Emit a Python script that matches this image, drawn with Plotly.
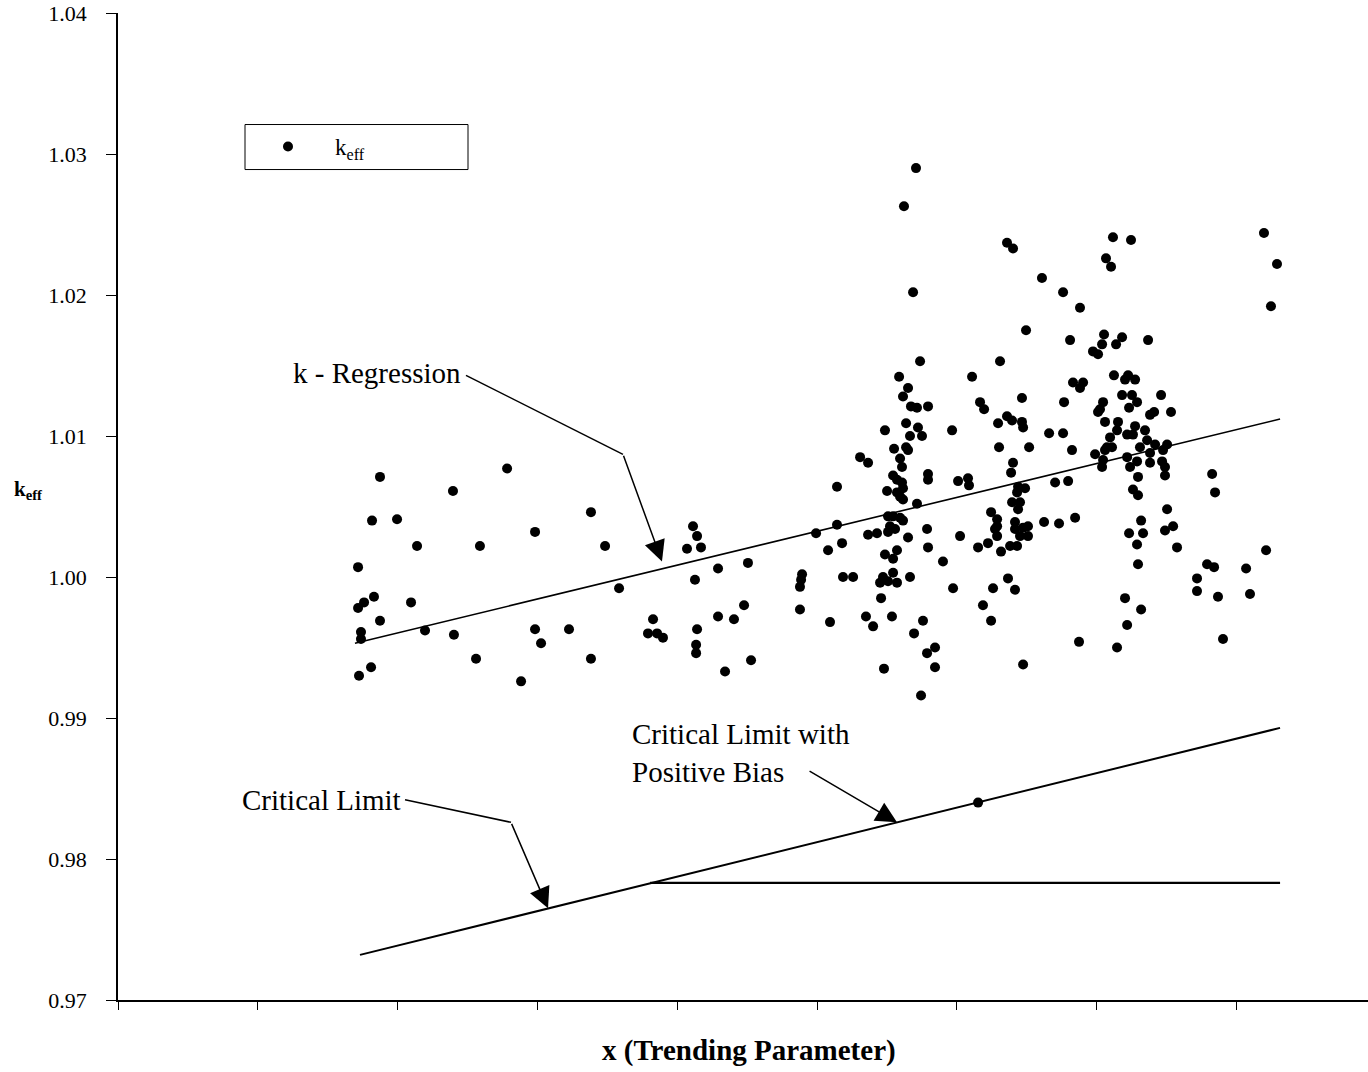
import plotly.graph_objects as go

# ---- data (trending parameter in axis-tick units, keff) ----
trend_x = [
    1.874, 2.783, 2.396, 1.817, 1.996, 3.383, 2.983, 2.139, 2.589, 3.484,
    4.113, 4.142, 4.070, 4.170, 1.717, 4.292, 4.127, 3.584, 1.831, 1.760,
    1.717, 2.096, 1.874, 4.292, 4.406, 1.738, 1.738, 2.196, 2.403, 2.983,
    3.026, 3.226, 3.827, 3.791, 3.856, 3.898, 4.142, 4.135, 4.135, 2.561,
    3.383, 1.810, 1.724, 2.883, 4.342,
    4.506, 4.478, 4.528, 4.893, 4.886, 4.878, 4.878, 4.993, 5.079, 5.093,
    5.143, 5.143, 5.179, 5.186, 5.258, 5.308, 5.365, 5.365, 5.429, 5.350,
    5.401, 5.486, 5.551, 5.637, 5.651, 5.665, 5.751, 5.594, 5.608, 5.544,
    5.572, 5.608, 5.615, 5.501, 5.572, 5.594, 5.615, 5.794, 5.794, 5.715,
    5.508, 5.544, 5.594, 5.615, 5.522, 5.558, 5.508, 5.787, 5.651, 5.794,
    5.572, 5.486, 5.544, 5.472, 5.544, 5.451, 5.508, 5.572, 5.665, 5.458,
    5.536, 5.758, 5.694, 5.787, 5.479, 5.744,
    5.708, 5.622, 6.359, 6.402, 6.609, 5.687, 6.495, 5.737, 6.309, 5.587,
    6.109, 5.651, 5.615, 5.672, 5.715, 5.794, 6.166, 6.195, 6.466, 5.637,
    5.722, 5.966, 6.359, 6.395, 6.295, 6.466, 6.474, 6.660, 6.302, 6.517,
    6.760, 6.824, 7.096, 7.110, 7.060, 6.989, 7.046, 7.039, 6.402, 6.388,
    6.009, 6.080, 6.087, 6.703, 6.796, 6.438, 6.488, 6.431, 6.395, 6.452,
    6.438, 6.245, 6.288, 6.288, 6.273, 6.416, 6.416, 6.474, 6.509, 6.452,
    6.509, 6.624, 6.731, 6.846, 6.023, 6.288, 6.152, 6.223, 6.316, 6.381,
    6.431, 5.901, 6.366, 5.973, 6.259, 6.416, 6.187, 6.245, 6.874, 5.844,
    5.844, 6.474, 7.146,
    7.117, 7.246, 7.067, 7.103, 8.197, 8.290, 8.247, 6.760, 6.881, 6.810,
    7.053, 7.039, 6.974, 7.010, 7.182, 7.139, 7.368, 7.124, 7.225, 7.275,
    7.203, 6.831, 6.903, 6.881, 6.767, 7.182, 7.253, 7.289, 7.232, 7.046,
    7.024, 7.010, 7.461, 7.532, 7.382, 7.411, 7.060, 7.153, 7.146, 7.275,
    7.346, 7.218, 7.260, 7.074, 7.361, 7.310, 7.418, 7.504,
    7.218, 7.289, 7.382, 7.475, 7.468, 7.489, 7.296, 7.489, 7.239, 7.382,
    7.826, 7.847, 7.260, 7.296, 7.504, 7.318, 7.232, 7.332, 7.547, 7.489,
    7.289, 7.575, 8.212, 7.296, 7.790, 7.840, 8.069, 7.718, 7.718, 7.868,
    8.097, 7.203, 7.318, 7.218, 7.904,
    6.152,
]
keff = [
    1.0071, 1.0077, 1.0061, 1.0040, 1.0041, 1.0046, 1.0032, 1.0022, 1.0022, 1.0022,
    1.0036, 1.0029, 1.0020, 1.0021, 1.0007, 1.0006, 0.9998, 0.9992, 0.9986, 0.9982,
    0.9978, 0.9982, 0.9969, 0.9972, 0.9970, 0.9961, 0.9956, 0.9962, 0.9959, 0.9963,
    0.9953, 0.9963, 0.9970, 0.9960, 0.9960, 0.9957, 0.9963, 0.9952, 0.9946, 0.9942,
    0.9942, 0.9936, 0.9930, 0.9926, 0.9933,
    1.0010, 0.9980, 0.9941, 1.0002, 0.9998, 0.9993, 0.9977, 1.0031, 1.0019, 0.9968,
    1.0064, 1.0037, 1.0024, 1.0000, 1.0000, 1.0085, 1.0081, 1.0030, 1.0031, 0.9972,
    0.9965, 1.0104, 1.0091, 1.0092, 1.0090, 1.0100, 1.0100, 1.0084, 1.0078, 1.0072,
    1.0069, 1.0067, 1.0063, 1.0061, 1.0060, 1.0057, 1.0055, 1.0073, 1.0069, 1.0052,
    1.0043, 1.0043, 1.0042, 1.0040, 1.0036, 1.0034, 1.0032, 1.0034, 1.0028, 1.0021,
    1.0019, 1.0016, 1.0013, 1.0000, 1.0003, 0.9996, 0.9997, 0.9996, 1.0000, 0.9985,
    0.9972, 0.9969, 0.9960, 0.9946, 0.9935, 0.9916,
    1.0290, 1.0263, 1.0237, 1.0233, 1.0212, 1.0202, 1.0175, 1.0153, 1.0153, 1.0142,
    1.0142, 1.0134, 1.0128, 1.0121, 1.0120, 1.0121, 1.0124, 1.0119, 1.0127, 1.0109,
    1.0106, 1.0104, 1.0114, 1.0111, 1.0109, 1.0110, 1.0106, 1.0102, 1.0092, 1.0092,
    1.0102, 1.0090, 1.0099, 1.0092, 1.0090, 1.0087, 1.0083, 1.0078, 1.0081, 1.0074,
    1.0068, 1.0070, 1.0065, 1.0067, 1.0068, 1.0064, 1.0063, 1.0060, 1.0053, 1.0053,
    1.0048, 1.0046, 1.0041, 1.0036, 1.0034, 1.0039, 1.0034, 1.0035, 1.0036, 1.0029,
    1.0029, 1.0039, 1.0038, 1.0042, 1.0029, 1.0029, 1.0021, 1.0024, 1.0018, 1.0022,
    1.0022, 1.0011, 0.9999, 0.9992, 0.9992, 0.9991, 0.9980, 0.9969, 0.9954, 0.9950,
    0.9936, 0.9938, 0.9950,
    1.0241, 1.0239, 1.0226, 1.0220, 1.0244, 1.0222, 1.0192, 1.0202, 1.0191, 1.0168,
    1.0172, 1.0165, 1.0160, 1.0158, 1.0170, 1.0165, 1.0168, 1.0143, 1.0143, 1.0140,
    1.0140, 1.0138, 1.0138, 1.0134, 1.0124, 1.0129, 1.0129, 1.0124, 1.0120, 1.0124,
    1.0119, 1.0117, 1.0129, 1.0117, 1.0115, 1.0117, 1.0110, 1.0110, 1.0104, 1.0107,
    1.0104, 1.0101, 1.0101, 1.0092, 1.0097, 1.0092, 1.0094, 1.0094,
    1.0085, 1.0082, 1.0088, 1.0090, 1.0082, 1.0078, 1.0071, 1.0072, 1.0078, 1.0081,
    1.0073, 1.0060, 1.0062, 1.0058, 1.0048, 1.0040, 1.0031, 1.0031, 1.0036, 1.0033,
    1.0023, 1.0021, 1.0019, 1.0009, 1.0009, 1.0007, 1.0006, 0.9999, 0.9990, 0.9986,
    0.9988, 0.9985, 0.9977, 0.9966, 0.9956,
    0.9840,
]

# regression and limit lines (end points)
reg_x = [1.695, 8.312]
reg_k = [0.9953, 1.0112]
bias_x = [1.731, 8.312]
bias_k = [0.9732, 0.9893]
crit_x = [3.806, 8.312]
crit_k = [0.9783, 0.9783]

# callout arrow paths (last point = arrow tip)
reg_arrow_x = [2.489, 3.612, 3.891]
reg_arrow_k = [1.0143, 1.0087, 1.0011]
bias_arrow_x = [4.936, 5.572]
bias_arrow_k = [0.9863, 0.9826]
crit_arrow_x = [2.053, 2.811, 3.076]
crit_arrow_k = [0.9842, 0.9826, 0.9765]

y_ticks = [0.97, 0.98, 0.99, 1.00, 1.01, 1.02, 1.03, 1.04]

SERIF = "Liberation Serif"

fig = go.Figure()

fig.add_trace(go.Scatter(x=reg_x, y=reg_k, mode="lines",
                         line=dict(color="black", width=1.6),
                         showlegend=False, hoverinfo="skip"))
fig.add_trace(go.Scatter(x=bias_x, y=bias_k, mode="lines",
                         line=dict(color="black", width=2),
                         showlegend=False, hoverinfo="skip"))
fig.add_trace(go.Scatter(x=crit_x, y=crit_k, mode="lines",
                         line=dict(color="black", width=2.2),
                         showlegend=False, hoverinfo="skip"))

for ax_, ak_ in [(reg_arrow_x, reg_arrow_k), (bias_arrow_x, bias_arrow_k),
                 (crit_arrow_x, crit_arrow_k)]:
    if len(ax_) > 2:
        fig.add_trace(go.Scatter(x=ax_[:-1], y=ak_[:-1], mode="lines",
                                 line=dict(color="black", width=1.5),
                                 showlegend=False, hoverinfo="skip"))
    fig.add_annotation(x=ax_[-1], y=ak_[-1], ax=ax_[-2], ay=ak_[-2],
                       xref="x", yref="y", axref="x", ayref="y",
                       text="", showarrow=True, arrowhead=2, arrowsize=2.8,
                       arrowwidth=1.5, arrowcolor="black", standoff=0)

fig.add_trace(go.Scatter(x=trend_x, y=keff, mode="markers",
                         name="k<sub>eff</sub>",
                         marker=dict(color="black", size=10)))

# text labels
fig.add_annotation(x=2.468, y=1.0145, xref="x", yref="y", text="k - Regression",
                   showarrow=False, xanchor="right", yanchor="middle",
                   font=dict(family=SERIF, size=29, color="black"))
fig.add_annotation(x=3.662, y=0.98753, xref="x", yref="y",
                   text="Critical Limit with<br>Positive Bias",
                   showarrow=False, xanchor="left", yanchor="middle", align="left",
                   font=dict(family=SERIF, size=29, color="black"))
fig.add_annotation(x=2.039, y=0.98419, xref="x", yref="y", text="Critical Limit",
                   showarrow=False, xanchor="right", yanchor="middle",
                   font=dict(family=SERIF, size=29, color="black"))

# axis titles
fig.add_annotation(x=0.505, y=-0.0507, xref="paper", yref="paper",
                   text="<b>x (Trending Parameter)</b>", showarrow=False,
                   xanchor="center", yanchor="middle",
                   font=dict(family=SERIF, size=29, color="black"))
fig.add_annotation(x=-0.072, y=0.517, xref="paper", yref="paper",
                   text="<b>k<sub>eff</sub></b>", showarrow=False,
                   xanchor="center", yanchor="middle",
                   font=dict(family=SERIF, size=21, color="black"))

# legend box
fig.add_shape(type="rect", xref="paper", yref="paper",
              x0=0.1016, x1=0.28, y0=0.8414, y1=0.887,
              line=dict(color="black", width=1))

fig.update_layout(
    width=1368, height=1072,
    margin=dict(l=118, r=0, t=13, b=72),
    paper_bgcolor="white", plot_bgcolor="white",
    font=dict(family=SERIF, color="black"),
    showlegend=True,
    legend=dict(x=0.0984, y=0.8647, xanchor="left", yanchor="middle",
                bgcolor="rgba(0,0,0,0)", borderwidth=0, itemwidth=84,
                font=dict(family=SERIF, size=23, color="black")),
    xaxis=dict(range=[0, 8.941], dtick=1, tick0=0, showticklabels=False,
               ticks="outside", ticklen=8, tickcolor="black", showgrid=False,
               zeroline=False, showline=True, linecolor="black", linewidth=1.5),
    yaxis=dict(range=[0.97, 1.04], tickvals=y_ticks, tickformat=".2f",
               ticks="outside", ticklen=10, tickcolor="black", showgrid=False,
               zeroline=False, showline=True, linecolor="black", linewidth=1.5,
               ticklabelstandoff=15,
               tickfont=dict(family=SERIF, size=22, color="black")),
)

fig.write_html("out.html")
